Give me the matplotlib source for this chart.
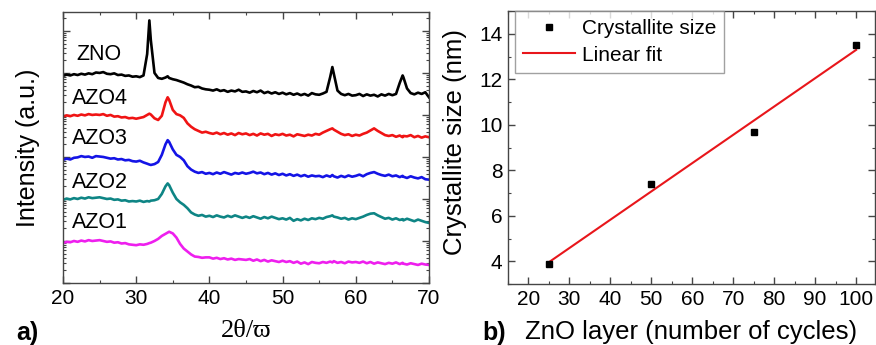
#!/usr/bin/env python3
"""
XRD patterns of ZnO / AZO films (a) and crystallite size vs ZnO cycles (b).

Output:
  * out.png
"""
from __future__ import annotations

import matplotlib

matplotlib.use("Agg")
import matplotlib.pyplot as plt
import numpy as np
from matplotlib.ticker import LogLocator, MultipleLocator, NullFormatter

# --- panel a: 2theta grid and log10(intensity) ---
two_theta = [
    20.0, 20.5, 21.0, 21.5, 22.0, 22.5, 23.0, 23.5, 24.0, 24.5,
    25.0, 25.5, 26.0, 26.5, 27.0, 27.5, 28.0, 28.5, 29.0, 29.5,
    30.0, 30.5, 31.0, 31.5, 31.8, 32.0, 32.5, 33.0, 33.5, 34.0, 34.3, 34.5,
    35.0, 35.5, 36.0, 36.5, 37.0, 37.5, 38.0, 38.5, 39.0, 39.5,
    40.0, 40.5, 41.0, 41.5, 42.0, 42.5, 43.0, 43.5, 44.0, 44.5,
    45.0, 45.5, 46.0, 46.5, 47.0, 47.5, 48.0, 48.5, 49.0, 49.5,
    50.0, 50.5, 51.0, 51.5, 52.0, 52.5, 53.0, 53.5, 54.0, 54.5,
    55.0, 55.5, 56.0, 56.5, 56.8, 57.0, 57.5, 58.0, 58.5, 59.0, 59.5,
    60.0, 60.5, 61.0, 61.5, 62.0, 62.5, 63.0, 63.5, 64.0, 64.5,
    65.0, 65.5, 66.0, 66.4, 66.5, 67.0, 67.5, 68.0, 68.5, 69.0, 69.5, 70.0,
]

zno_log = [
    4.93, 4.96, 4.94, 4.97, 4.95, 4.98, 4.96, 4.99, 4.97, 5.01,
    5.00, 5.02, 4.98, 4.97, 4.99, 4.95, 4.96, 4.93, 4.94, 4.91,
    4.92, 4.90, 4.94, 5.45, 6.25, 5.78, 5.00, 4.88, 4.86, 4.89, 4.92, 4.88,
    4.85, 4.83, 4.80, 4.77, 4.73, 4.70, 4.66, 4.67, 4.63, 4.61,
    4.60, 4.58, 4.61, 4.57, 4.59, 4.55, 4.58, 4.56, 4.60, 4.55,
    4.56, 4.53, 4.57, 4.54, 4.58, 4.52, 4.55, 4.51, 4.54, 4.50,
    4.53, 4.49, 4.52, 4.48, 4.51, 4.47, 4.50, 4.46, 4.52, 4.49,
    4.48, 4.51, 4.55, 4.90, 5.14, 4.98, 4.58, 4.50, 4.47, 4.50, 4.46,
    4.47, 4.50, 4.45, 4.49, 4.46, 4.48, 4.44, 4.49, 4.46, 4.50,
    4.47, 4.50, 4.76, 4.94, 4.90, 4.63, 4.52, 4.49, 4.53, 4.50, 4.54, 4.42,
]

azo4_log = [
    3.96, 3.99, 3.97, 4.00, 3.98, 4.01, 3.99, 4.02, 4.00, 4.01,
    4.00, 4.02, 3.98, 4.00, 3.96, 3.97, 3.94, 3.95, 3.92, 3.93,
    3.91, 3.93, 3.95, 4.00, 4.03, 4.01, 3.92, 3.88, 3.98, 4.30, 4.42, 4.36,
    4.12, 4.02, 3.99, 3.93, 3.80, 3.72, 3.66, 3.62, 3.58, 3.60,
    3.57, 3.55, 3.58, 3.54, 3.57, 3.53, 3.56, 3.52, 3.57, 3.54,
    3.56, 3.52, 3.55, 3.51, 3.56, 3.53, 3.55, 3.50, 3.54, 3.52,
    3.55, 3.51, 3.53, 3.49, 3.54, 3.52, 3.50, 3.53, 3.51, 3.55,
    3.53, 3.58, 3.62, 3.66, 3.68, 3.65, 3.60, 3.55, 3.52, 3.54, 3.50,
    3.53, 3.51, 3.55, 3.58, 3.63, 3.68, 3.62, 3.57, 3.52, 3.50,
    3.52, 3.48, 3.51, 3.47, 3.50, 3.49, 3.52, 3.47, 3.50, 3.46, 3.49, 3.47,
]

azo3_log = [
    2.93, 2.96, 2.94, 2.98, 2.99, 3.02, 3.00, 3.01, 2.98, 3.02,
    3.01, 3.00, 2.98, 2.96, 2.97, 2.94, 2.95, 2.92, 2.93, 2.90,
    2.89, 2.91, 2.87, 2.84, 2.82, 2.81, 2.83, 2.88, 3.05, 3.30, 3.40, 3.36,
    3.18, 3.05, 3.00, 2.92, 2.78, 2.70, 2.65, 2.62, 2.64, 2.60,
    2.62, 2.59, 2.63, 2.60, 2.64, 2.61, 2.58, 2.62, 2.60, 2.63,
    2.60, 2.62, 2.65, 2.61, 2.63, 2.59, 2.62, 2.58, 2.61, 2.57,
    2.60, 2.56, 2.59, 2.55, 2.58, 2.54, 2.57, 2.53, 2.56, 2.54,
    2.55, 2.52, 2.56, 2.53, 2.57, 2.54, 2.51, 2.55, 2.52, 2.56, 2.53,
    2.55, 2.58, 2.54, 2.59, 2.62, 2.64, 2.60, 2.57, 2.55, 2.58,
    2.54, 2.56, 2.52, 2.55, 2.53, 2.50, 2.54, 2.51, 2.49, 2.52, 2.47, 2.46,
]

azo2_log = [
    1.98, 2.01, 1.99, 2.02, 2.00, 2.03, 2.01, 2.04, 2.02, 2.03,
    2.04, 2.02, 2.00, 2.01, 1.98, 1.99, 1.96, 1.97, 1.94, 1.95,
    1.94, 1.96, 1.93, 1.95, 1.94, 1.96, 1.97, 2.00, 2.12, 2.30, 2.37, 2.33,
    2.15, 2.00, 1.92, 1.86, 1.78, 1.68, 1.63, 1.60, 1.62, 1.58,
    1.60, 1.57, 1.61, 1.58, 1.56, 1.60, 1.57, 1.61, 1.58, 1.55,
    1.58, 1.55, 1.59, 1.56, 1.53, 1.57, 1.54, 1.58, 1.55, 1.52,
    1.54, 1.51, 1.55, 1.48, 1.52, 1.49, 1.53, 1.50, 1.54, 1.52,
    1.55, 1.53, 1.57, 1.59, 1.61, 1.58, 1.56, 1.53, 1.55, 1.51, 1.54,
    1.52, 1.55, 1.58, 1.62, 1.65, 1.66, 1.61, 1.57, 1.53, 1.55,
    1.51, 1.54, 1.50, 1.52, 1.49, 1.53, 1.50, 1.47, 1.51, 1.48, 1.45, 1.43,
]

azo1_log = [
    0.95, 0.98, 0.97, 1.00, 0.98, 1.01, 0.99, 1.02, 1.00, 1.01,
    1.02, 1.00, 0.98, 0.99, 0.96, 0.97, 0.94, 0.95, 0.92, 0.91,
    0.90, 0.92, 0.91, 0.93, 0.95, 0.96, 1.00, 1.05, 1.12, 1.17, 1.20, 1.22,
    1.18, 1.08, 0.93, 0.82, 0.75, 0.68, 0.63, 0.62, 0.60, 0.61,
    0.61, 0.58, 0.60, 0.57, 0.59, 0.56, 0.58, 0.55, 0.57, 0.56,
    0.55, 0.57, 0.53, 0.56, 0.52, 0.55, 0.51, 0.54, 0.52, 0.50,
    0.53, 0.50, 0.52, 0.48, 0.51, 0.46, 0.49, 0.45, 0.50, 0.48,
    0.47, 0.50, 0.48, 0.51, 0.49, 0.52, 0.48, 0.50, 0.47, 0.51, 0.49,
    0.50, 0.48, 0.51, 0.47, 0.50, 0.46, 0.49, 0.47, 0.45, 0.48,
    0.46, 0.49, 0.45, 0.48, 0.46, 0.44, 0.47, 0.45, 0.43, 0.46, 0.44, 0.43,
]

sample_names = ["ZNO", "AZO4", "AZO3", "AZO2", "AZO1"]
sample_colors = ["#000000", "#f01414", "#1414e6", "#0e8585", "#ee1fee"]
label_x = [21.8, 21.2, 21.2, 21.2, 21.2]
label_log = [5.45, 4.40, 3.44, 2.39, 1.44]

# --- panel b: crystallite size vs number of ZnO cycles ---
zno_cycles = [25, 50, 75, 100]
crystallite_nm = [3.9, 7.4, 9.7, 13.5]

SANS = ["Liberation Sans", "DejaVu Sans"]
SERIF = ["Liberation Serif", "DejaVu Serif"]
FRAME = "#454545"


def style_axes(ax) -> None:
    for sp in ax.spines.values():
        sp.set_color(FRAME)
        sp.set_linewidth(1.0)
    ax.tick_params(which="both", direction="in", top=True, right=True,
                   color=FRAME, labelsize=15, pad=4)
    ax.tick_params(which="major", length=5, width=1.0)
    ax.tick_params(which="minor", length=2.5, width=0.8)


def main() -> None:
    plt.rcParams["font.family"] = SANS
    fig = plt.figure(figsize=(8.76, 3.45), dpi=100)

    # (a) XRD patterns
    ax = fig.add_axes([0.0719, 0.1797, 0.4178, 0.7855])
    traces = [zno_log, azo4_log, azo3_log, azo2_log, azo1_log]
    for vals, color in zip(traces, sample_colors):
        ax.plot(two_theta, np.power(10.0, vals), color=color, lw=1.9)
    for name, x, yl in zip(sample_names, label_x, label_log):
        ax.text(x, 10 ** yl, name, fontsize=15.5, ha="left", va="center")
    ax.set_yscale("log")
    ax.set_xlim(20, 70)
    ax.set_ylim(1, 10 ** 6.45)
    ax.xaxis.set_major_locator(MultipleLocator(10))
    ax.xaxis.set_minor_locator(MultipleLocator(5))
    ax.yaxis.set_major_locator(LogLocator(base=10, numticks=10))
    ax.yaxis.set_minor_locator(LogLocator(base=10, subs=np.arange(2, 10), numticks=20))
    ax.yaxis.set_major_formatter(NullFormatter())
    ax.yaxis.set_minor_formatter(NullFormatter())
    style_axes(ax)
    ax.set_xlabel("2\u03b8/\u03d6", fontsize=19, family=SERIF, labelpad=9)
    ax.set_ylabel("Intensity (a.u.)", fontsize=18)
    ax.yaxis.set_label_coords(-0.062, 0.5)

    # (b) crystallite size with linear fit
    bx = fig.add_axes([0.5799, 0.1768, 0.4189, 0.7913])
    slope, intercept = np.polyfit(zno_cycles, crystallite_nm, 1)
    fit_x = np.array([zno_cycles[0], zno_cycles[-1]], dtype=float)
    bx.plot(fit_x, slope * fit_x + intercept, color="#e8161b", lw=1.5,
            label="Linear fit", zorder=2)
    bx.plot(zno_cycles, crystallite_nm, "s", color="black", ms=4,
            label="Crystallite size", zorder=3)
    bx.set_xlim(15, 104.6)
    bx.set_ylim(3, 15)
    bx.xaxis.set_major_locator(MultipleLocator(10))
    bx.xaxis.set_minor_locator(MultipleLocator(5))
    bx.yaxis.set_major_locator(MultipleLocator(2))
    bx.yaxis.set_minor_locator(MultipleLocator(1))
    style_axes(bx)
    bx.set_xlabel("ZnO layer (number of cycles)", fontsize=18.5, labelpad=8)
    bx.set_ylabel("Crystallite size (nm)", fontsize=18.5)
    bx.yaxis.set_label_coords(-0.112, 0.52)

    handles, labels = bx.get_legend_handles_labels()
    leg = bx.legend(handles[::-1], labels[::-1], loc="upper left",
                    bbox_to_anchor=(0.019, 1.0), borderaxespad=0,
                    fontsize=15, fancybox=False, handlelength=2.5,
                    handletextpad=0.3, labelspacing=0.35, borderpad=0.4)
    leg.get_frame().set_edgecolor("#8a8a8a")
    leg.get_frame().set_linewidth(1.0)

    fig.text(0.019, 0.015, "a)", fontsize=18, fontweight="bold")
    fig.text(0.551, 0.015, "b)", fontsize=18, fontweight="bold")

    fig.savefig("out.png", dpi=100)
    plt.close(fig)


if __name__ == "__main__":
    main()
